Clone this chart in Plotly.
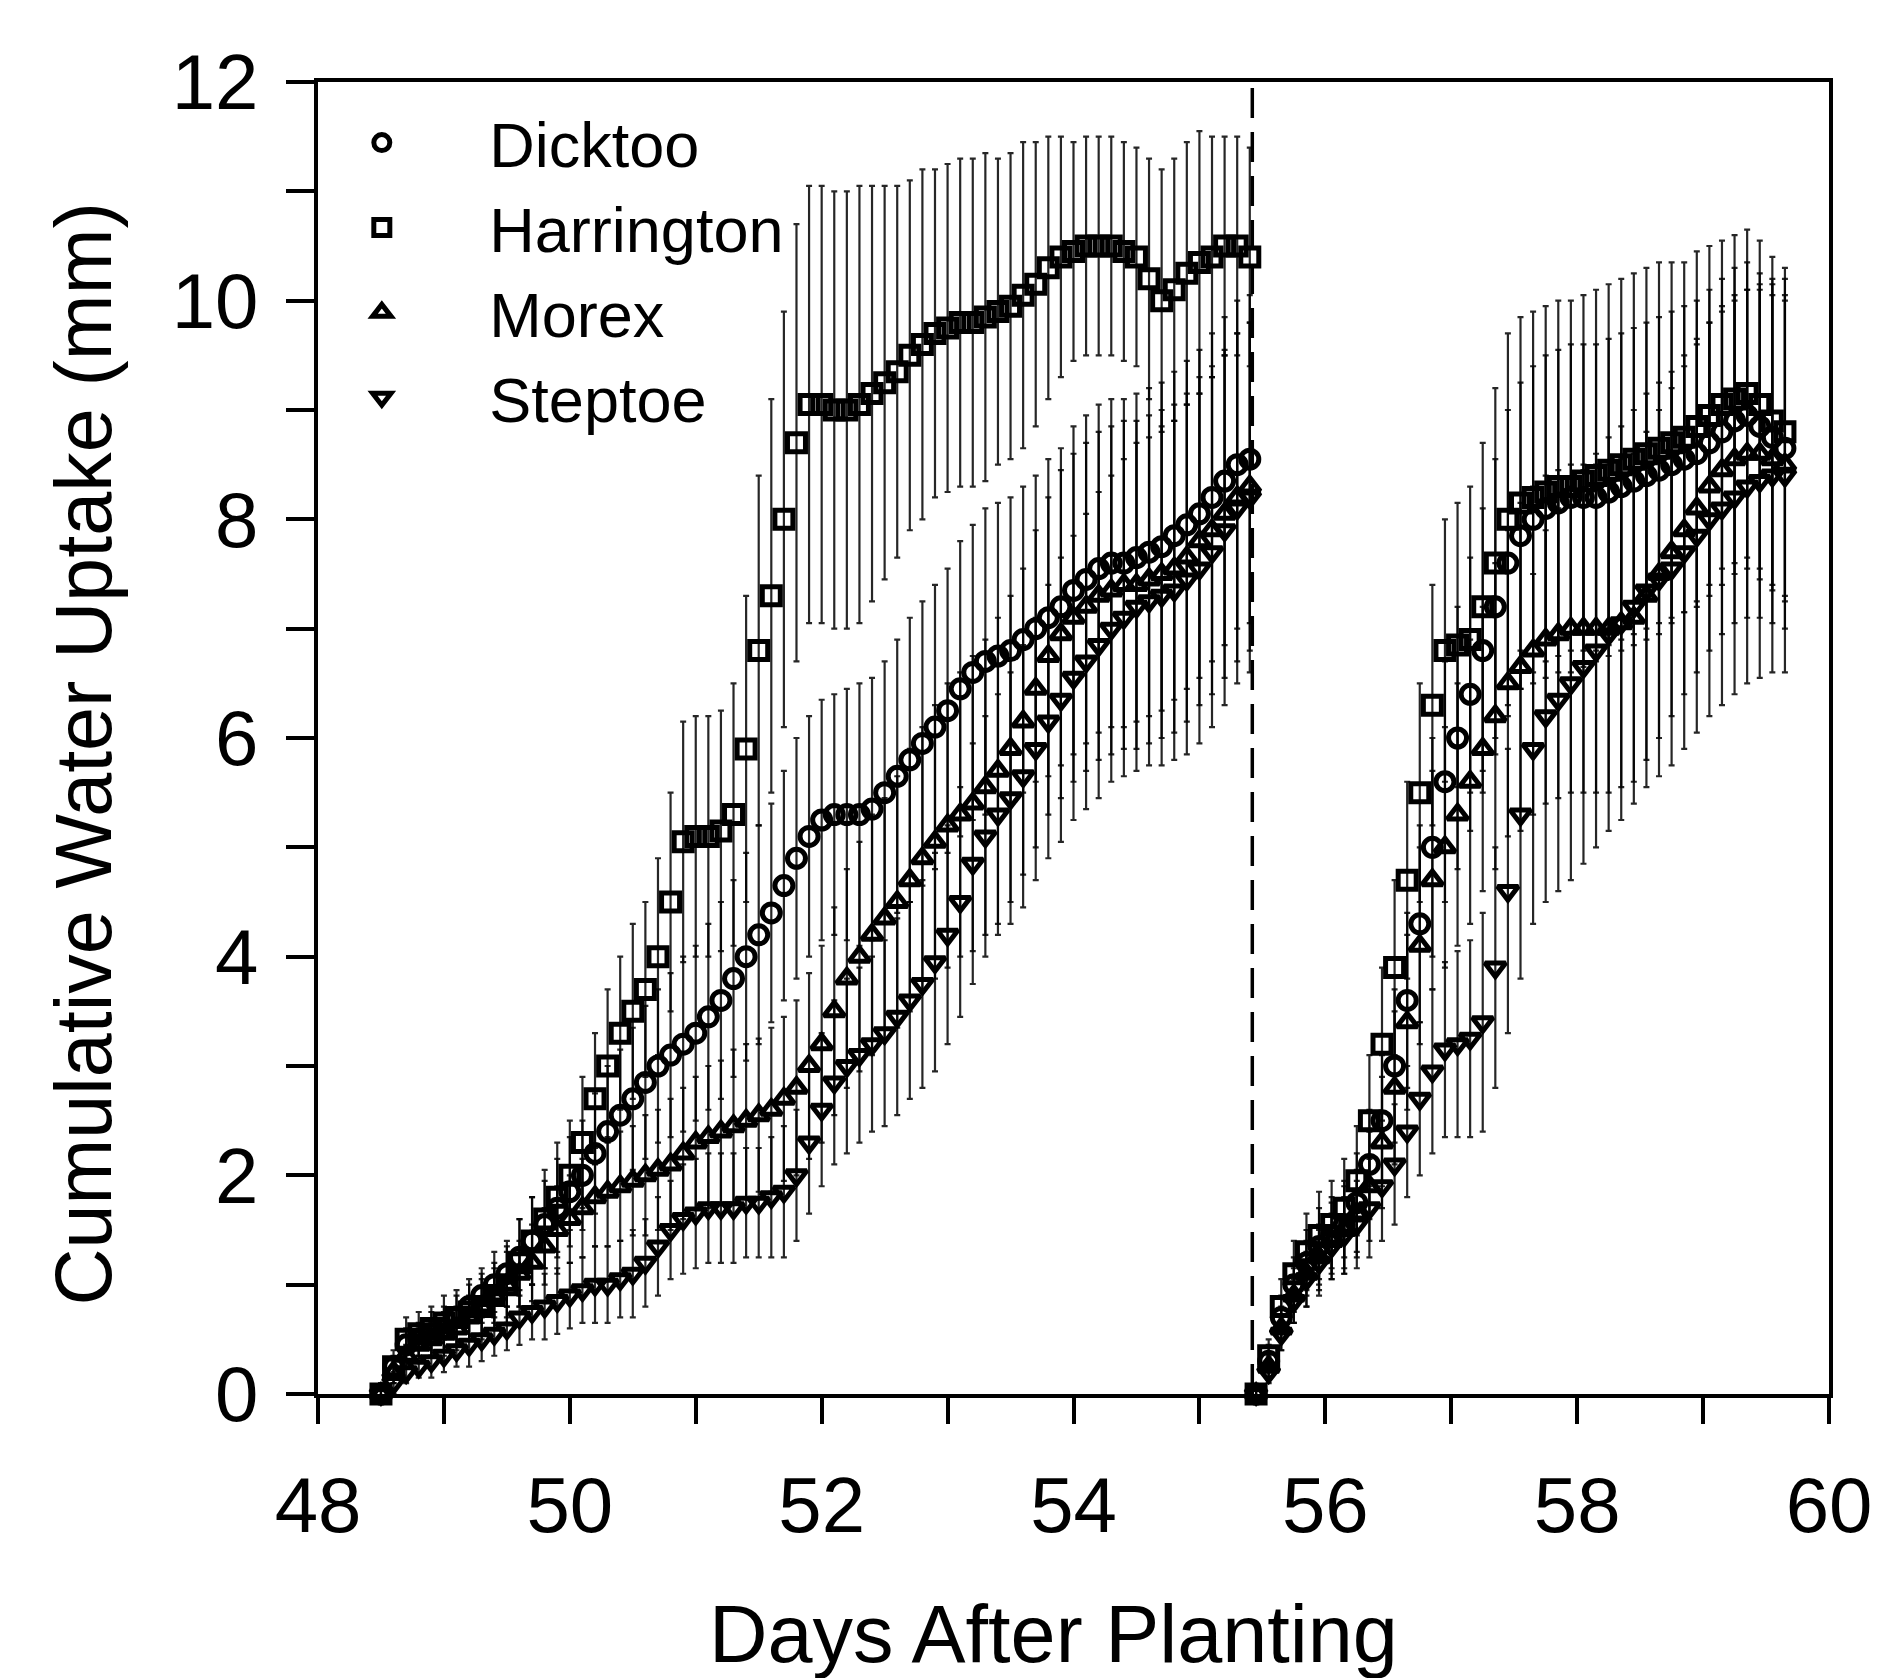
import plotly.graph_objects as go

# ---------------- data ----------------
cultivars = ["Dicktoo", "Harrington", "Morex", "Steptoe"]
symbols = {"Dicktoo": "circle-open", "Harrington": "square-open",
           "Morex": "triangle-up-open", "Steptoe": "triangle-down-open"}

# first drying cycle
days_1 = [48.5, 48.6, 48.7, 48.8, 48.9, 49.0, 49.1, 49.2, 49.3, 49.4,
          49.5, 49.6, 49.7, 49.8, 49.9, 50.0, 50.1, 50.2, 50.3, 50.4,
          50.5, 50.6, 50.7, 50.8, 50.9, 51.0, 51.1, 51.2, 51.3, 51.4,
          51.5, 51.6, 51.7, 51.8, 51.9, 52.0, 52.1, 52.2, 52.3, 52.4,
          52.5, 52.6, 52.7, 52.8, 52.9, 53.0, 53.1, 53.2, 53.3, 53.4,
          53.5, 53.6, 53.7, 53.8, 53.9, 54.0, 54.1, 54.2, 54.3, 54.4,
          54.5, 54.6, 54.7, 54.8, 54.9, 55.0, 55.1, 55.2, 55.3, 55.4]

dicktoo_1 = [0.0, 0.25, 0.45, 0.5, 0.55, 0.6, 0.7, 0.8, 0.9, 1.0,
             1.1, 1.25, 1.4, 1.55, 1.7, 1.85, 2.0, 2.2, 2.4, 2.55,
             2.7, 2.85, 3.0, 3.1, 3.2, 3.3, 3.45, 3.6, 3.8, 4.0,
             4.2, 4.4, 4.65, 4.9, 5.1, 5.25, 5.3, 5.3, 5.3, 5.35,
             5.5, 5.65, 5.8, 5.95, 6.1, 6.25, 6.45, 6.6, 6.7, 6.75,
             6.8, 6.9, 7.0, 7.1, 7.2, 7.35, 7.45, 7.55, 7.6, 7.6,
             7.65, 7.7, 7.75, 7.85, 7.95, 8.05, 8.2, 8.35, 8.5, 8.55]
harrington_1 = [0.0, 0.25, 0.5, 0.55, 0.6, 0.65, 0.7, 0.75, 0.8, 0.9,
                1.0, 1.2, 1.4, 1.6, 1.8, 2.0, 2.3, 2.7, 3.0, 3.3,
                3.5, 3.7, 4.0, 4.5, 5.05, 5.1, 5.1, 5.15, 5.3, 5.9,
                6.8, 7.3, 8.0, 8.7, 9.05, 9.05, 9.0, 9.0, 9.05, 9.15,
                9.25, 9.35, 9.5, 9.6, 9.7, 9.75, 9.8, 9.8, 9.85, 9.9,
                9.95, 10.05, 10.15, 10.3, 10.4, 10.45, 10.5, 10.5, 10.5, 10.45,
                10.4, 10.2, 10.0, 10.1, 10.25, 10.35, 10.4, 10.5, 10.5, 10.4]
morex_1 = [0.0, 0.2, 0.35, 0.45, 0.5, 0.55, 0.6, 0.7, 0.8, 0.9,
           1.0, 1.1, 1.2, 1.35, 1.5, 1.6, 1.7, 1.8, 1.85, 1.9,
           1.95, 2.0, 2.05, 2.1, 2.2, 2.3, 2.35, 2.4, 2.45, 2.5,
           2.55, 2.6, 2.7, 2.8, 3.0, 3.2, 3.5, 3.8, 4.0, 4.2,
           4.35, 4.5, 4.7, 4.9, 5.05, 5.2, 5.3, 5.4, 5.55, 5.7,
           5.9, 6.15, 6.45, 6.75, 6.95, 7.1, 7.2, 7.3, 7.35, 7.4,
           7.4, 7.45, 7.5, 7.55, 7.65, 7.8, 7.9, 8.05, 8.2, 8.3]
steptoe_1 = [0.0, 0.1, 0.2, 0.25, 0.3, 0.35, 0.4, 0.45, 0.5, 0.55,
             0.6, 0.7, 0.75, 0.8, 0.85, 0.9, 0.95, 1.0, 1.0, 1.05,
             1.1, 1.2, 1.35, 1.5, 1.6, 1.65, 1.7, 1.7, 1.7, 1.75,
             1.75, 1.8, 1.85, 2.0, 2.3, 2.6, 2.85, 3.0, 3.1, 3.2,
             3.3, 3.45, 3.6, 3.75, 3.95, 4.2, 4.5, 4.85, 5.1, 5.3,
             5.45, 5.65, 5.9, 6.15, 6.35, 6.55, 6.7, 6.85, 7.0, 7.1,
             7.2, 7.25, 7.3, 7.35, 7.45, 7.55, 7.7, 7.9, 8.1, 8.2]

dicktoo_err_1 = [0.05, 0.1, 0.15, 0.15, 0.2, 0.2, 0.2, 0.25, 0.25, 0.3,
                 0.3, 0.35, 0.4, 0.4, 0.45, 0.5, 0.5, 0.55, 0.6, 0.6,
                 0.65, 0.7, 0.7, 0.75, 0.8, 0.8, 0.85, 0.9, 0.9, 0.95,
                 1.0, 1.0, 1.05, 1.1, 1.1, 1.1, 1.1, 1.15, 1.2, 1.2,
                 1.2, 1.25, 1.3, 1.3, 1.3, 1.3, 1.35, 1.35, 1.4, 1.4,
                 1.4, 1.4, 1.4, 1.45, 1.45, 1.5, 1.5, 1.5, 1.5, 1.5,
                 1.5, 1.5, 1.5, 1.5, 1.5, 1.5, 1.5, 1.5, 1.5, 1.5]
harrington_err_1 = [0.1, 0.15, 0.2, 0.2, 0.2, 0.25, 0.25, 0.25, 0.3, 0.3,
                    0.35, 0.4, 0.4, 0.45, 0.5, 0.5, 0.6, 0.6, 0.7, 0.7,
                    0.8, 0.8, 0.9, 1.0, 1.1, 1.1, 1.1, 1.1, 1.2, 1.4,
                    1.6, 1.8, 1.9, 2.0, 2.0, 2.0, 2.0, 2.0, 2.0, 1.9,
                    1.8, 1.7, 1.6, 1.6, 1.5, 1.5, 1.5, 1.5, 1.5, 1.4,
                    1.4, 1.4, 1.3, 1.2, 1.1, 1.0, 1.0, 1.0, 1.0, 1.0,
                    1.0, 1.1, 1.2, 1.2, 1.2, 1.2, 1.1, 1.0, 1.0, 1.0]
morex_err_1 = [0.05, 0.1, 0.1, 0.15, 0.15, 0.2, 0.2, 0.2, 0.25, 0.25,
               0.3, 0.3, 0.35, 0.35, 0.4, 0.4, 0.45, 0.45, 0.5, 0.5,
               0.5, 0.55, 0.55, 0.6, 0.6, 0.6, 0.65, 0.65, 0.7, 0.7,
               0.7, 0.75, 0.75, 0.8, 0.85, 0.9, 0.95, 1.0, 1.05, 1.1,
               1.1, 1.15, 1.2, 1.2, 1.25, 1.3, 1.3, 1.35, 1.35, 1.4,
               1.4, 1.4, 1.45, 1.45, 1.5, 1.5, 1.5, 1.5, 1.5, 1.5,
               1.5, 1.5, 1.5, 1.5, 1.5, 1.5, 1.5, 1.5, 1.5, 1.5]
steptoe_err_1 = [0.05, 0.1, 0.1, 0.1, 0.15, 0.15, 0.15, 0.2, 0.2, 0.2,
                 0.2, 0.25, 0.25, 0.3, 0.3, 0.3, 0.3, 0.35, 0.35, 0.35,
                 0.4, 0.4, 0.45, 0.45, 0.5, 0.5, 0.5, 0.5, 0.5, 0.5,
                 0.5, 0.55, 0.6, 0.6, 0.65, 0.7, 0.75, 0.8, 0.8, 0.8,
                 0.85, 0.9, 0.9, 0.95, 1.0, 1.0, 1.05, 1.1, 1.1, 1.1,
                 1.15, 1.2, 1.2, 1.25, 1.3, 1.3, 1.35, 1.4, 1.4, 1.45,
                 1.5, 1.5, 1.55, 1.55, 1.6, 1.6, 1.6, 1.6, 1.6, 1.6]

# second drying cycle (after re-watering)
days_2 = [55.45, 55.55, 55.65, 55.75, 55.85, 55.95, 56.05, 56.15, 56.25, 56.35,
          56.45, 56.55, 56.65, 56.75, 56.85, 56.95, 57.05, 57.15, 57.25, 57.35,
          57.45, 57.55, 57.65, 57.75, 57.85, 57.95, 58.05, 58.15, 58.25, 58.35,
          58.45, 58.55, 58.65, 58.75, 58.85, 58.95, 59.05, 59.15, 59.25, 59.35,
          59.45, 59.55, 59.65]

dicktoo_2 = [0.0, 0.3, 0.7, 1.0, 1.2, 1.35, 1.45, 1.55, 1.75, 2.1,
             2.5, 3.0, 3.6, 4.3, 5.0, 5.6, 6.0, 6.4, 6.8, 7.2,
             7.6, 7.85, 8.0, 8.1, 8.15, 8.2, 8.2, 8.2, 8.25, 8.3,
             8.35, 8.4, 8.45, 8.5, 8.55, 8.6, 8.7, 8.8, 8.9, 8.95,
             8.85, 8.75, 8.65]
harrington_2 = [0.0, 0.35, 0.8, 1.1, 1.3, 1.45, 1.55, 1.7, 1.95, 2.5,
                3.2, 3.9, 4.7, 5.5, 6.3, 6.8, 6.85, 6.9, 7.2, 7.6,
                8.0, 8.15, 8.2, 8.25, 8.3, 8.3, 8.35, 8.4, 8.45, 8.5,
                8.55, 8.6, 8.65, 8.7, 8.75, 8.85, 8.95, 9.05, 9.1, 9.15,
                9.05, 8.9, 8.8]
morex_2 = [0.0, 0.25, 0.6, 0.9, 1.1, 1.25, 1.4, 1.5, 1.65, 1.9,
           2.3, 2.8, 3.4, 4.1, 4.7, 5.0, 5.3, 5.6, 5.9, 6.2,
           6.5, 6.65, 6.8, 6.9, 6.95, 7.0, 7.0, 7.0, 7.0, 7.05,
           7.1, 7.3, 7.5, 7.7, 7.9, 8.1, 8.3, 8.45, 8.55, 8.6,
           8.6, 8.55, 8.5]
steptoe_2 = [0.0, 0.2, 0.55, 0.85, 1.05, 1.2, 1.35, 1.45, 1.55, 1.7,
             1.9, 2.1, 2.4, 2.7, 2.95, 3.15, 3.2, 3.25, 3.4, 3.9,
             4.6, 5.3, 5.9, 6.2, 6.35, 6.5, 6.65, 6.8, 6.95, 7.05,
             7.2, 7.35, 7.45, 7.55, 7.7, 7.85, 8.0, 8.1, 8.2, 8.3,
             8.35, 8.4, 8.4]

dicktoo_err_2 = [0.05, 0.15, 0.2, 0.25, 0.3, 0.35, 0.35, 0.4, 0.45, 0.5,
                 0.6, 0.7, 0.8, 0.9, 1.0, 1.1, 1.2, 1.25, 1.3, 1.35,
                 1.4, 1.4, 1.4, 1.4, 1.4, 1.4, 1.4, 1.4, 1.4, 1.4,
                 1.4, 1.4, 1.4, 1.4, 1.4, 1.4, 1.4, 1.4, 1.4, 1.4,
                 1.4, 1.4, 1.4]
harrington_err_2 = [0.05, 0.15, 0.25, 0.3, 0.35, 0.4, 0.4, 0.45, 0.5, 0.6,
                    0.7, 0.8, 0.9, 1.0, 1.1, 1.2, 1.3, 1.4, 1.5, 1.6,
                    1.7, 1.7, 1.7, 1.7, 1.7, 1.7, 1.7, 1.7, 1.7, 1.7,
                    1.7, 1.7, 1.7, 1.65, 1.6, 1.6, 1.55, 1.5, 1.5, 1.5,
                    1.5, 1.5, 1.5]
morex_err_2 = [0.05, 0.1, 0.2, 0.25, 0.3, 0.3, 0.35, 0.4, 0.4, 0.5,
               0.6, 0.7, 0.8, 0.9, 1.0, 1.1, 1.2, 1.3, 1.3, 1.4,
               1.4, 1.5, 1.5, 1.5, 1.5, 1.5, 1.5, 1.5, 1.5, 1.5,
               1.5, 1.5, 1.5, 1.5, 1.5, 1.5, 1.5, 1.5, 1.5, 1.5,
               1.5, 1.5, 1.5]
steptoe_err_2 = [0.05, 0.1, 0.15, 0.2, 0.25, 0.3, 0.3, 0.35, 0.4, 0.45,
                 0.5, 0.55, 0.6, 0.7, 0.75, 0.8, 0.85, 0.9, 1.0, 1.1,
                 1.3, 1.5, 1.6, 1.7, 1.75, 1.8, 1.8, 1.8, 1.8, 1.8,
                 1.8, 1.8, 1.8, 1.8, 1.8, 1.8, 1.8, 1.8, 1.8, 1.8,
                 1.8, 1.8, 1.8]

rewatering_day = 55.42

x_tick_values = [48, 49, 50, 51, 52, 53, 54, 55, 56, 57, 58, 59, 60]
x_tick_labels = ["48", "", "50", "", "52", "", "54", "", "56", "", "58", "", "60"]
y_tick_values = [0, 1, 2, 3, 4, 5, 6, 7, 8, 9, 10, 11, 12]
y_tick_labels = ["0", "", "2", "", "4", "", "6", "", "8", "", "10", "", "12"]

x_title = "Days After Planting"
y_title = "Cumulative Water Uptake (mm)"

series_1 = {"Dicktoo": (dicktoo_1, dicktoo_err_1), "Harrington": (harrington_1, harrington_err_1),
            "Morex": (morex_1, morex_err_1), "Steptoe": (steptoe_1, steptoe_err_1)}
series_2 = {"Dicktoo": (dicktoo_2, dicktoo_err_2), "Harrington": (harrington_2, harrington_err_2),
            "Morex": (morex_2, morex_err_2), "Steptoe": (steptoe_2, steptoe_err_2)}

# ---------------- figure ----------------
FONT = "Liberation Sans, Arial, sans-serif"
NBSP = "\u00a0"
fig = go.Figure()


def add_series(days, name, values, errs, show):
    fig.add_trace(go.Scatter(
        x=days, y=values, mode="markers",
        name=NBSP * 5 + name, legendgroup=name,
        showlegend=show, cliponaxis=False,
        marker=dict(symbol=symbols[name], size=18, color="black",
                    line=dict(width=5, color="black")),
        error_y=dict(type="data", array=errs, color="rgba(0,0,0,0.85)",
                     thickness=2.2, width=3),
    ))


for name in cultivars:
    vals, errs = series_1[name]
    add_series(days_1, name, vals, errs, True)
for name in cultivars:
    vals, errs = series_2[name]
    add_series(days_2, name, vals, errs, False)

fig.add_shape(type="line", xref="x", yref="y", x0=rewatering_day, x1=rewatering_day,
              y0=0, y1=12, line=dict(color="black", width=3.5, dash="30px,14px"))

axis_common = dict(showline=True, linecolor="black", linewidth=4, mirror=True,
                   ticks="outside", tickwidth=3.5, tickcolor="black",
                   showgrid=False, zeroline=False,
                   tickfont=dict(family=FONT, size=78, color="black"))

fig.update_xaxes(range=[48, 60], tickvals=x_tick_values, ticktext=x_tick_labels,
                 ticklen=26, ticklabelstandoff=14, **axis_common)
fig.update_yaxes(range=[0, 12], tickvals=y_tick_values, ticktext=y_tick_labels,
                 ticklen=28, ticklabelstandoff=12, **axis_common)

fig.add_annotation(text=x_title, xref="paper", yref="paper", x=0.487, y=-0.183,
                   xanchor="center", yanchor="middle", showarrow=False,
                   font=dict(family=FONT, size=81, color="black"))
fig.add_annotation(text=y_title, xref="paper", yref="paper", x=-0.155, y=0.488,
                   xanchor="center", yanchor="middle", showarrow=False, textangle=-90,
                   font=dict(family=FONT, size=79, color="black"))

fig.update_layout(
    width=1885, height=1678,
    margin=dict(l=310, r=64, t=74, b=292),
    paper_bgcolor="white", plot_bgcolor="white",
    showlegend=True,
    legend=dict(x=0.029, y=0.99, xanchor="left", yanchor="top",
                bgcolor="rgba(0,0,0,0)", borderwidth=0,
                font=dict(family=FONT, size=63, color="black"),
                tracegroupgap=0),
)

fig.write_html("out.html")
